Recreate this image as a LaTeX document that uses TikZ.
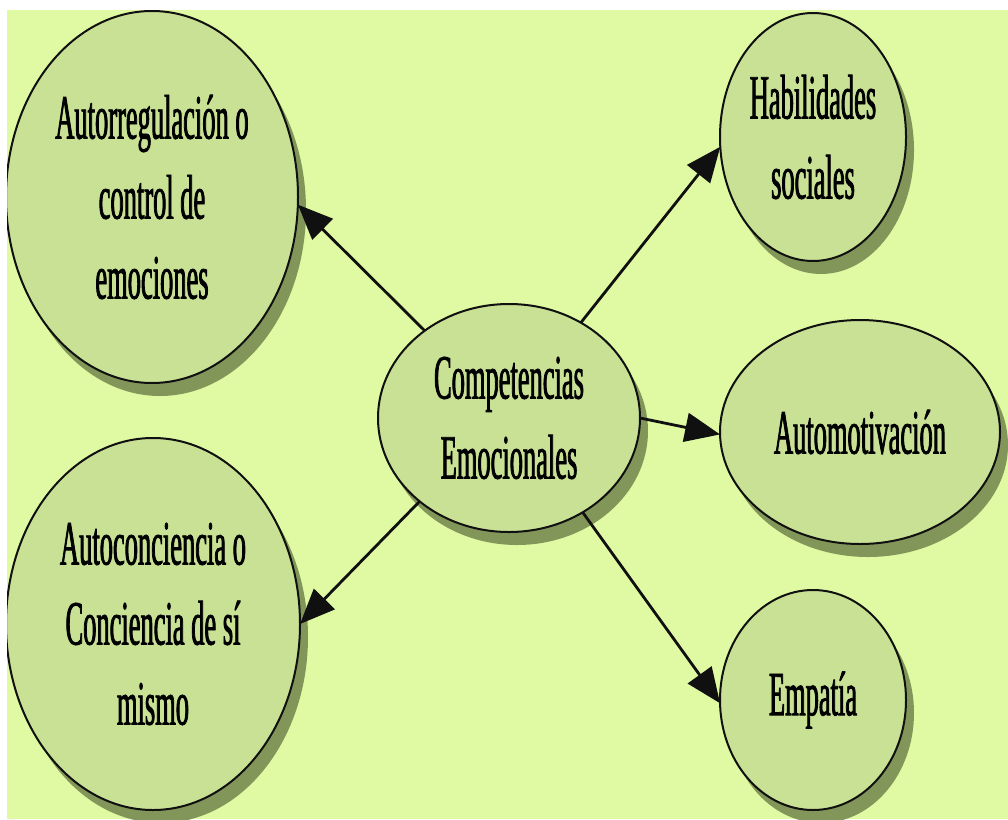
\documentclass[tikz,border=0pt]{standalone}
\usepackage{fontspec}
\newfontfamily\condserif{Liberation Serif}[FakeStretch=0.42,FakeBold=1.2]
\usetikzlibrary{shapes.geometric,arrows.meta,shadows}
\definecolor{paper}{HTML}{E0FAA4}
\definecolor{bubblefill}{HTML}{C9E195}
\definecolor{bubbleshadow}{HTML}{82965A}
\definecolor{ink}{HTML}{101010}

\begin{document}
\begin{tikzpicture}[x=1pt,y=-1pt,
  bubble/.style={ellipse, draw=ink, line width=2pt, fill=bubblefill,
    inner sep=0pt, outer sep=0pt, align=center,
    font=\condserif\fontsize{63}{80}\selectfont,
    drop shadow={shadow xshift=8pt, shadow yshift=-13pt, fill=bubbleshadow, opacity=1}},
  link/.style={draw=ink, line width=2.8pt, -{Triangle[length=35pt,width=29pt]}}]
\useasboundingbox (0,0) rectangle (1008,819);
\fill[white] (0,0) rectangle (1008,819);
\fill[paper] (7,10) rectangle (1008,819);
\begin{scope}
  \clip (7,10) rectangle (1008,819);
  % central concept
  \node[bubble, minimum width=262pt, minimum height=228pt] (C) at (509,418)
    {Competencias\\Emocionales};
  % left branches
  \node[bubble, minimum width=292pt, minimum height=372pt] (A) at (152,197)
    {Autorregulación o\\control de\\emociones};
  \node[bubble, minimum width=294pt, minimum height=372pt] (B) at (153,624)
    {Autoconciencia o\\Conciencia de sí\\mismo};
  % right branches
  \node[bubble, minimum width=186pt, minimum height=248pt] (H) at (813,137)
    {Habilidades\\sociales};
  \node[bubble, minimum width=280pt, minimum height=224pt] (M) at (860,432)
    {Automotivación};
  \node[bubble, minimum width=186pt, minimum height=220pt] (E) at (813,700)
    {Empatía};
  % connectors
  \draw[link] (C.134.7) -- (A.357);
  \draw[link] (C.223.4) -- (B.0);
  \draw[link] (C.53.4) -- (H.186);
  \draw[link] (C.0) -- (M.181);
  \draw[link] (C.308.8) -- (E.182);
\end{scope}
\end{tikzpicture}
\end{document}
